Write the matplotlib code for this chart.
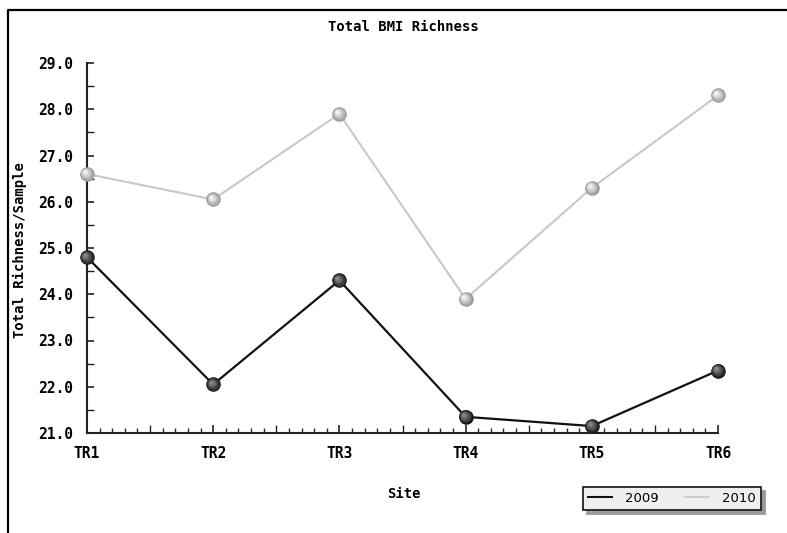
import matplotlib
matplotlib.use("Agg")
import matplotlib.pyplot as plt
import matplotlib.transforms as mtransforms
from matplotlib.lines import Line2D
from matplotlib.ticker import MultipleLocator, FixedLocator
import numpy as np

sites = ["TR1", "TR2", "TR3", "TR4", "TR5", "TR6"]
richness_2009 = [24.8, 22.05, 24.3, 21.35, 21.15, 22.35]
richness_2010 = [26.6, 26.05, 27.9, 23.9, 26.3, 28.3]
y_ticks = [21.0, 22.0, 23.0, 24.0, 25.0, 26.0, 27.0, 28.0, 29.0]

W, H = 787, 533
fig = plt.figure(figsize=(W / 100, H / 100), dpi=100)
fig.patch.set_facecolor("white")

mono = {"family": "DejaVu Sans Mono", "weight": "bold"}

ax = fig.add_axes([87 / W, 1 - 433 / H, (718 - 87) / W, (433 - 63) / H])
x = np.arange(len(sites))


def sphere(ax, xs, ys, base, light, size):
    # layered discs shifted toward the upper-left give a shaded ball look
    steps = 8
    cols_base = np.array(matplotlib.colors.to_rgb(base))
    cols_light = np.array(matplotlib.colors.to_rgb(light))
    for k in range(steps):
        t = k / (steps - 1)
        col = cols_base * (1 - t) + cols_light * t
        s = size * (1 - 0.8 * t)
        off = mtransforms.offset_copy(ax.transData, fig=fig,
                                      x=-1.6 * t, y=1.6 * t, units="points")
        ax.plot(xs, ys, linestyle="none", marker="o", ms=s,
                markerfacecolor=col, markeredgecolor="none",
                transform=off, zorder=4 + k * 0.01, clip_on=False)


ax.plot(x, richness_2010, color="#c8c8c8", lw=1.5, zorder=2)
ax.plot(x, richness_2009, color="#111111", lw=1.6, zorder=3)
sphere(ax, x, richness_2010, "#9a9a9a", "#f6f6f6", 10.5)
sphere(ax, x, richness_2009, "#1a1a1a", "#8a8a8a", 10.5)

ax.set_xlim(0, len(sites) - 1)
ax.set_ylim(21.0, 29.0)

ax.set_xticks(x)
ax.set_xticklabels(sites, fontdict=mono, fontsize=10.5)
minor_x = [i + j / 10 for i in range(len(sites) - 1) for j in range(1, 10)]
ax.xaxis.set_minor_locator(FixedLocator(minor_x))
ax.set_yticks(y_ticks)
ax.set_yticklabels([f"{v:.1f}" for v in y_ticks], fontdict=mono, fontsize=10.5)
ax.yaxis.set_minor_locator(MultipleLocator(0.5))

ax.tick_params(axis="x", which="major", direction="in", length=6, width=1.2,
               pad=9, colors="#222222", labelcolor="black")
ax.tick_params(axis="x", which="minor", direction="in", length=3.5, width=1.0,
               colors="#222222")
ax.tick_params(axis="y", which="major", direction="in", length=5, width=1.2,
               pad=10, colors="#222222", labelcolor="black")
ax.tick_params(axis="y", which="minor", direction="in", length=5, width=1.0,
               colors="#222222")

# half-way ticks between sites are drawn a little longer
for pos, tick in zip(minor_x, ax.xaxis.get_minor_ticks(len(minor_x))):
    if abs(pos - round(pos) - 0.5) < 1e-6 or abs(pos % 1 - 0.5) < 1e-6:
        tick.tick1line.set_markersize(6)

for side in ("top", "right"):
    ax.spines[side].set_visible(False)
for side in ("left", "bottom"):
    ax.spines[side].set_color("#222222")
    ax.spines[side].set_linewidth(1.5)
ax.set_facecolor("none")

fig.text(403 / W, 1 - 27 / H, "Total BMI Richness", ha="center", va="center",
         fontsize=10, **mono)
fig.text(404 / W, 1 - 494 / H, "Site", ha="center", va="center",
         fontsize=10, **mono)
fig.text(20 / W, 1 - 250 / H, "Total Richness/Sample", ha="center",
         va="center", rotation=90, fontsize=10, **mono)

# outer frame along the left and top edges
fig.add_artist(Line2D([8 / W, 8 / W, 1.0], [0.0, 1 - 10 / H, 1 - 10 / H],
                      transform=fig.transFigure, color="black", lw=1.6))

handles = [Line2D([], [], color="#111111", lw=1.5),
           Line2D([], [], color="#c8c8c8", lw=1.2)]
leg = fig.legend(handles, ["2009", "2010"], ncol=2,
                 loc="center", bbox_to_anchor=(672 / W, 1 - 498.5 / H),
                 frameon=True, fancybox=False,
                 shadow={"ox": 3, "oy": -3, "color": "#9a9a9a", "alpha": 1},
                 edgecolor="#222222", facecolor="#efefef", framealpha=1,
                 prop={"family": "DejaVu Sans", "size": 9.5},
                 handlelength=1.8, handletextpad=1.0, columnspacing=2.0,
                 borderpad=0.4, borderaxespad=0)
leg.get_frame().set_linewidth(1.3)

fig.savefig("out.png", dpi=100, facecolor="white")
